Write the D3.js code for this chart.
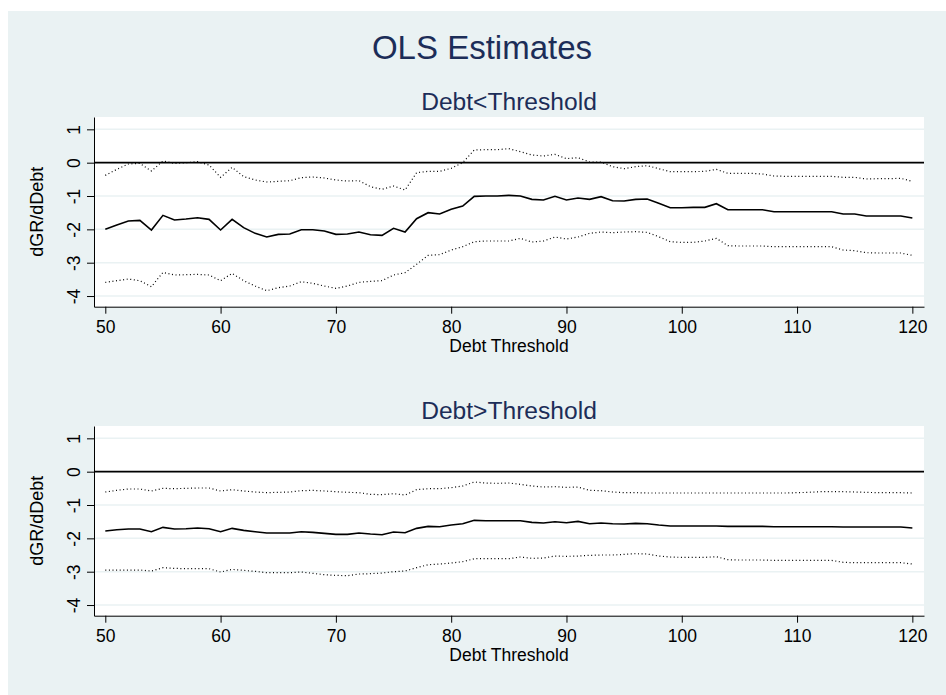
<!DOCTYPE html>
<html>
<head>
<meta charset="utf-8">
<script src="https://cdn.jsdelivr.net/npm/d3@7"></script>
<style>
  body { margin: 0; background: #fff; }
  svg { display: block; font-family: "Liberation Sans", Arial, sans-serif; }
  .tick text { font-size: 17.5px; fill: #000; }
  .tick line, .domain { stroke: #000; }
</style>
</head>
<body>
<svg width="946" height="695"></svg>
<script>
const thresholds = d3.range(50, 121);
const yTicks = [-4, -3, -2, -1, 0, 1];
const xTicks = [50, 60, 70, 80, 90, 100, 110, 120];

// Debt < Threshold
const belowEst = [-2.00, -1.87, -1.75, -1.73, -2.02, -1.58, -1.72, -1.69, -1.65, -1.70,
  -2.02, -1.70, -1.95, -2.12, -2.23, -2.15, -2.14, -2.01, -2.01, -2.05,
  -2.15, -2.14, -2.08, -2.16, -2.18, -1.97, -2.08, -1.68, -1.50, -1.54,
  -1.40, -1.30, -1.01, -1.00, -1.00, -0.98, -1.00, -1.10, -1.12, -1.01,
  -1.12, -1.06, -1.10, -1.02, -1.14, -1.15, -1.10, -1.09, -1.22, -1.35,
  -1.35, -1.34, -1.34, -1.23, -1.41, -1.41, -1.41, -1.41, -1.47, -1.47,
  -1.47, -1.47, -1.47, -1.47, -1.54, -1.54, -1.60, -1.60, -1.60, -1.60, -1.66];
const belowUpper = [-0.38, -0.20, -0.04, -0.02, -0.25, 0.05, -0.02, 0.00, 0.03, -0.07,
  -0.44, -0.14, -0.42, -0.52, -0.58, -0.56, -0.54, -0.45, -0.43, -0.46,
  -0.52, -0.55, -0.54, -0.72, -0.80, -0.70, -0.82, -0.30, -0.26, -0.26,
  -0.17, 0.00, 0.38, 0.39, 0.39, 0.42, 0.33, 0.23, 0.20, 0.25,
  0.12, 0.15, 0.02, 0.02, -0.12, -0.18, -0.12, -0.09, -0.18, -0.27,
  -0.27, -0.27, -0.26, -0.20, -0.32, -0.32, -0.32, -0.34, -0.40, -0.41,
  -0.41, -0.41, -0.41, -0.41, -0.44, -0.44, -0.49, -0.48, -0.48, -0.47, -0.56];
const belowLower = [-3.59, -3.54, -3.49, -3.54, -3.72, -3.29, -3.37, -3.36, -3.35, -3.37,
  -3.54, -3.32, -3.54, -3.70, -3.84, -3.75, -3.70, -3.57, -3.62, -3.70,
  -3.77, -3.70, -3.59, -3.56, -3.54, -3.37, -3.30, -3.05, -2.78, -2.76,
  -2.62, -2.52, -2.37, -2.35, -2.35, -2.35, -2.27, -2.38, -2.35, -2.23,
  -2.29, -2.23, -2.12, -2.08, -2.10, -2.08, -2.07, -2.09, -2.22, -2.37,
  -2.39, -2.39, -2.35, -2.27, -2.49, -2.50, -2.50, -2.50, -2.52, -2.52,
  -2.52, -2.52, -2.52, -2.52, -2.62, -2.64, -2.70, -2.71, -2.71, -2.71, -2.78];

// Debt > Threshold
const aboveEst = [-1.78, -1.74, -1.72, -1.72, -1.80, -1.67, -1.72, -1.71, -1.69, -1.71,
  -1.80, -1.70, -1.76, -1.80, -1.84, -1.84, -1.84, -1.80, -1.82, -1.85,
  -1.88, -1.88, -1.84, -1.87, -1.89, -1.81, -1.83, -1.70, -1.64, -1.65,
  -1.60, -1.56, -1.46, -1.47, -1.47, -1.47, -1.47, -1.52, -1.54, -1.50,
  -1.53, -1.49, -1.56, -1.54, -1.56, -1.57, -1.55, -1.56, -1.60, -1.63,
  -1.63, -1.63, -1.63, -1.63, -1.64, -1.64, -1.64, -1.64, -1.65, -1.65,
  -1.65, -1.65, -1.65, -1.65, -1.66, -1.66, -1.66, -1.66, -1.66, -1.66, -1.69];
const aboveUpper = [-0.61, -0.56, -0.52, -0.52, -0.58, -0.50, -0.51, -0.50, -0.49, -0.49,
  -0.58, -0.54, -0.58, -0.61, -0.63, -0.62, -0.61, -0.57, -0.56, -0.58,
  -0.60, -0.62, -0.63, -0.68, -0.69, -0.66, -0.70, -0.54, -0.51, -0.51,
  -0.48, -0.43, -0.31, -0.34, -0.35, -0.34, -0.38, -0.43, -0.46, -0.45,
  -0.47, -0.46, -0.56, -0.57, -0.61, -0.63, -0.63, -0.64, -0.64, -0.64,
  -0.64, -0.64, -0.64, -0.64, -0.64, -0.64, -0.64, -0.64, -0.64, -0.64,
  -0.63, -0.62, -0.60, -0.60, -0.60, -0.61, -0.62, -0.63, -0.63, -0.63, -0.64];
const aboveLower = [-2.95, -2.95, -2.95, -2.95, -2.98, -2.88, -2.90, -2.91, -2.91, -2.91,
  -3.01, -2.93, -2.96, -2.99, -3.03, -3.03, -3.03, -3.01, -3.05, -3.09,
  -3.11, -3.12, -3.07, -3.06, -3.04, -3.00, -2.98, -2.88, -2.79, -2.77,
  -2.74, -2.70, -2.61, -2.61, -2.61, -2.61, -2.56, -2.60, -2.59, -2.53,
  -2.54, -2.53, -2.51, -2.50, -2.50, -2.48, -2.46, -2.47, -2.53, -2.56,
  -2.57, -2.57, -2.57, -2.55, -2.64, -2.65, -2.65, -2.65, -2.66, -2.66,
  -2.66, -2.66, -2.66, -2.66, -2.72, -2.73, -2.73, -2.73, -2.73, -2.73, -2.77];

const svg = d3.select("svg");
const bg = "#eaf2f3";
const navy = "#1c2d58";

svg.append("rect").attr("x", 8).attr("y", 11).attr("width", 938).attr("height", 684).attr("fill", bg);

svg.append("text")
  .attr("x", 482).attr("y", 59)
  .attr("text-anchor", "middle")
  .attr("font-size", 33).attr("fill", navy)
  .text("OLS Estimates");

const x = d3.scaleLinear().domain([49.02, 121.01]).range([94, 924]);

function panel(top, subtitle, est, upper, lower) {
  const bottom = top + 189.7;
  const y = d3.scaleLinear().domain([-4.32, 1.37]).range([bottom, top]);
  const g = svg.append("g");

  g.append("text")
    .attr("x", 509).attr("y", top - 7)
    .attr("text-anchor", "middle")
    .attr("font-size", 24.6).attr("fill", navy)
    .text(subtitle);

  g.append("rect")
    .attr("x", 94).attr("y", top)
    .attr("width", 830).attr("height", bottom - top)
    .attr("fill", "#fff");

  g.selectAll(".grid")
    .data(yTicks)
    .enter().append("line")
    .attr("class", "grid")
    .attr("x1", 94).attr("x2", 924)
    .attr("y1", d => y(d)).attr("y2", d => y(d))
    .attr("stroke", bg).attr("stroke-width", 1.5);

  const yAxis = g.append("g")
    .attr("transform", "translate(94,0)")
    .call(d3.axisLeft(y).tickValues(yTicks).tickSize(7).tickSizeOuter(0).tickFormat(d3.format("d")));
  yAxis.selectAll(".tick text")
    .attr("transform", "rotate(-90)")
    .attr("x", 0).attr("y", -14).attr("dy", 0)
    .attr("text-anchor", "middle")
    .text(d => d < 0 ? "-" + Math.abs(d) : d);

  const xAxis = g.append("g")
    .attr("transform", `translate(0,${bottom})`)
    .call(d3.axisBottom(x).tickValues(xTicks).tickSize(7).tickSizeOuter(0));
  xAxis.selectAll(".tick text").attr("y", 26).attr("dy", 0);

  g.append("text")
    .attr("x", 509).attr("y", bottom + 45)
    .attr("text-anchor", "middle")
    .attr("font-size", 17.5)
    .text("Debt Threshold");

  g.append("text")
    .attr("transform", `translate(43,${(top + bottom) / 2}) rotate(-90)`)
    .attr("text-anchor", "middle")
    .attr("font-size", 18)
    .text("dGR/dDebt");

  g.append("line")
    .attr("x1", 94).attr("x2", 924)
    .attr("y1", y(0)).attr("y2", y(0))
    .attr("stroke", "#000").attr("stroke-width", 1.8);

  const line = d3.line().x((d, i) => x(thresholds[i])).y(d => y(d));

  [upper, lower].forEach(s => {
    g.append("path")
      .attr("d", line(s))
      .attr("fill", "none")
      .attr("stroke", "#000")
      .attr("stroke-width", 1.2)
      .attr("stroke-dasharray", "1,2.6");
  });

  g.append("path")
    .attr("d", line(est))
    .attr("fill", "none")
    .attr("stroke", "#000")
    .attr("stroke-width", 1.6);
}

panel(117, "Debt<Threshold", belowEst, belowUpper, belowLower);
panel(426, "Debt>Threshold", aboveEst, aboveUpper, aboveLower);
</script>
</body>
</html>
